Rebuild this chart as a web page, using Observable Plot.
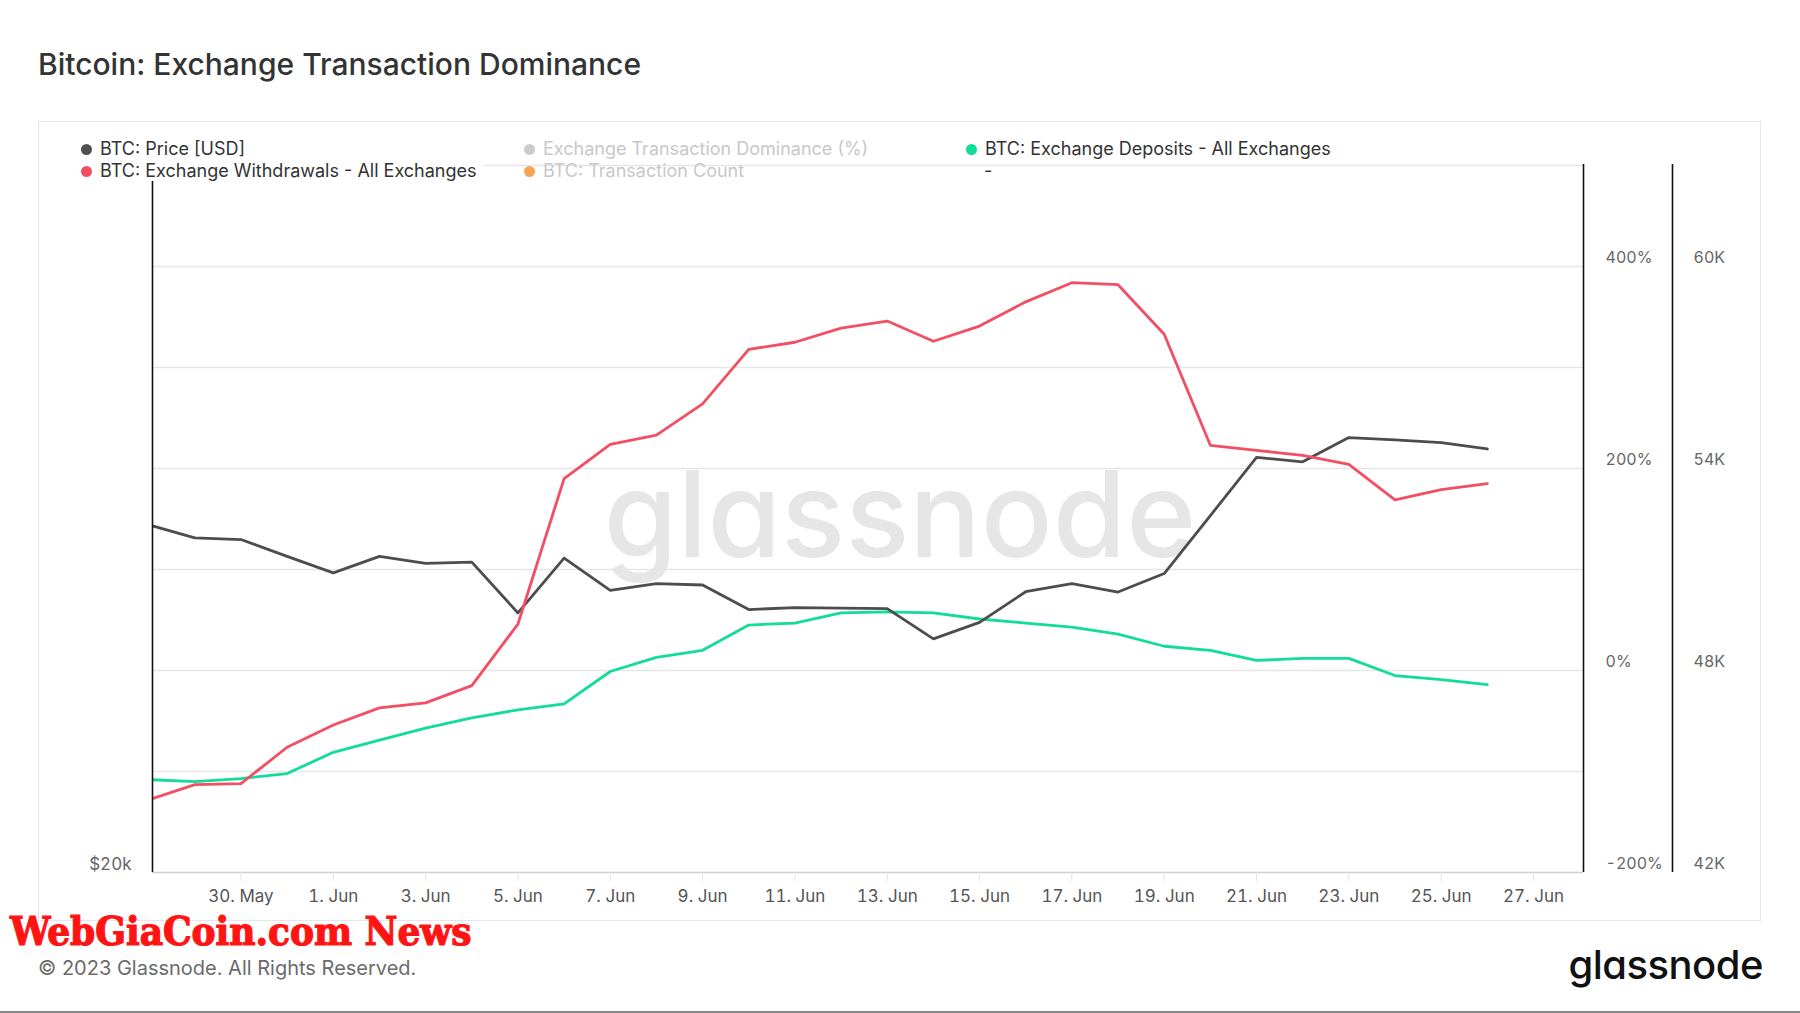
<!DOCTYPE html>
<html>
<head>
<meta charset="utf-8">
<script src="https://cdn.jsdelivr.net/npm/d3@7"></script>
<script src="https://cdn.jsdelivr.net/npm/@observablehq/plot@0.6"></script>
<style>
  html, body { margin: 0; padding: 0; background: #fff; }
  body { width: 1800px; height: 1013px; position: relative; overflow: hidden; font-family: Inter, "Noto Sans", sans-serif; }
  .abs { position: absolute; white-space: nowrap; }
  #box { position: absolute; left: 38px; top: 121px; width: 1721px; height: 798px; border: 1px solid #e6e6e6; }
  #chart { position: absolute; left: 0; top: 0; }
  .title { left: 38px; top: 47px; font-size: 30px; font-weight: 500; color: #333; line-height: 34px; }
  .leg { font-size: 18px; line-height: 20px; color: #333; }
  .dot { position: absolute; width: 11px; height: 11px; border-radius: 50%; }
  .copy { left: 38px; top: 955px; font-size: 20px; color: #6b6b6b; line-height: 26px; }
  .news { left: 10px; top: 915px; font-family: "DejaVu Serif Condensed", "DejaVu Serif", serif; font-weight: 900; font-size: 40px; color: #ff1414; line-height: 32px; -webkit-text-stroke: 1.2px #ff1414; }
  .logo { right: 37px; top: 942px; font-size: 40px; font-weight: 500; color: #111; line-height: 46px; letter-spacing: -0.5px; font-feature-settings: "cv11"; }
  #bottomline { position: absolute; left: 0; top: 1011px; width: 1800px; height: 2px; background: #888; }
</style>
</head>
<body>
<div id="box"></div>
<div id="chart"></div>
<div class="abs title">Bitcoin: Exchange Transaction Dominance</div>
<div id="legend"></div>
<div class="abs news">WebGiaCoin.com News</div>
<div class="abs copy">© 2023 Glassnode. All Rights Reserved.</div>
<div class="abs logo">glassnode</div>
<div id="bottomline"></div>
<script>
// ---- data ----
const dates = [
  "2023-05-28","2023-05-29","2023-05-30","2023-05-31","2023-06-01","2023-06-02","2023-06-03","2023-06-04",
  "2023-06-05","2023-06-06","2023-06-07","2023-06-08","2023-06-09","2023-06-10","2023-06-11","2023-06-12",
  "2023-06-13","2023-06-14","2023-06-15","2023-06-16","2023-06-17","2023-06-18","2023-06-19","2023-06-20",
  "2023-06-21","2023-06-22","2023-06-23","2023-06-24","2023-06-25","2023-06-26"
];
// BTC: Exchange Withdrawals - All Exchanges (% axis)
const withdrawalsPct = [-128,-113,-112,-76,-54,-37,-32,-15,46,190,224,233,264,318,325,339,346,326,341,365,384,382,333,223,218,213,204,169,179,185];
// BTC: Exchange Deposits - All Exchanges (% axis)
const depositsPct = [-108,-110,-107,-102,-81,-69,-57,-47,-39,-33,-1,13,20,45,47,57,58,57,51,47,43,36,24,20,10,12,12,-5,-9,-14];
// BTC: Price [USD], read against the 42K–60K axis
const priceVals = [52330,51940,51890,51390,50900,51390,51180,51220,49710,51340,50380,50580,50540,49810,49870,49850,49840,48940,49430,50340,50580,50330,50880,52600,54330,54200,54920,54850,54770,54580];

const xTicks = ["2023-05-30","2023-06-01","2023-06-03","2023-06-05","2023-06-07","2023-06-09","2023-06-11","2023-06-13","2023-06-15","2023-06-17","2023-06-19","2023-06-21","2023-06-23","2023-06-25","2023-06-27"];
const pctTicks = [-200, 0, 200, 400];
const pctTickLabels = ["-200%", "0%", "200%", "400%"];
const priceTickLabels = ["42K", "48K", "54K", "60K"];
const gridPct = [-100, 0, 100, 200, 300, 400, 500];
const leftTickLabels = ["$20k"];
const xDomain = ["2023-05-28T02:00Z", "2023-06-28T02:00Z"];
const yDomain = [-200, 501];

const legendLabels = ["BTC: Price [USD]", "Exchange Transaction Dominance (%)", "BTC: Exchange Deposits - All Exchanges",
                      "BTC: Exchange Withdrawals - All Exchanges", "BTC: Transaction Count", "-"];
const legendColors = ["#505050", "#cccccc", "#12dc97", "#f24e64", "#f7a35c", null];
const legendActive = [true, false, true, true, false, true];

const C_PRICE = "#4d4d4d", C_DEP = "#12dc97", C_WD = "#f24e64";

// price on the shared % scale: 48K ↔ 0%, 6K per 200%
const priceToPct = p => (p - 48000) / 30;

const rows = dates.map((d, i) => ({
  date: new Date(d + "T00:00Z"),
  wd: withdrawalsPct[i],
  dep: depositsPct[i],
  price: priceVals[i]
}));

const xStart = new Date(xDomain[0]);
const xEnd = new Date(xDomain[1]);

const chart = Plot.plot({
  width: 1800,
  height: 940,
  marginTop: 164,
  marginBottom: 68,
  marginLeft: 152,
  marginRight: 217,
  style: { background: "transparent", fontFamily: "Inter, 'Noto Sans', sans-serif", fontSize: "16px", overflow: "visible" },
  x: { type: "utc", domain: [xStart, xEnd] },
  y: { domain: yDomain },
  marks: [
    Plot.ruleY(gridPct, { stroke: "#e6e6e6", strokeWidth: 1.3 }),
    Plot.ruleY([yDomain[0]], { stroke: "#d0d0d0", strokeWidth: 1.5 }),
    Plot.text(["glassnode"], { frameAnchor: "middle", dx: 32, dy: 0, fontSize: 119, fontWeight: 500, fill: "#e6e6e6" }),
    Plot.lineY(rows, { x: "date", y: "dep", stroke: C_DEP, strokeWidth: 2.8, clip: true }),
    Plot.lineY(rows, { x: "date", y: d => priceToPct(d.price), stroke: C_PRICE, strokeWidth: 2.8, clip: true }),
    Plot.lineY(rows, { x: "date", y: "wd", stroke: C_WD, strokeWidth: 2.8, clip: true }),
    Plot.ruleX([xStart], { stroke: "#111", strokeWidth: 1.6 }),
    Plot.ruleX([xEnd], { stroke: "#111", strokeWidth: 1.6 }),
    Plot.ruleX([xEnd], { stroke: "#111", strokeWidth: 1.6, dx: 89 }),
    Plot.axisX(xTicks.map(t => new Date(t + "T00:00Z")), {
      tickFormat: d3.utcFormat("%-d. %b"), tickSize: 9, tickPadding: 8,
      stroke: "#e3e3e3", fill: "#555", fontSize: 17, label: null
    }),
    Plot.axisY(pctTicks, {
      anchor: "right", tickSize: 0, tickPadding: 22, dy: -9,
      tickFormat: (d, i) => pctTickLabels[i], fill: "#666", fontSize: 16, label: null
    }),
    Plot.axisY(pctTicks, {
      anchor: "right", tickSize: 0, tickPadding: 110, dy: -9,
      tickFormat: (d, i) => priceTickLabels[i], fill: "#666", fontSize: 16, label: null
    }),
    Plot.axisY([yDomain[0]], {
      anchor: "left", tickSize: 0, tickPadding: 21, dy: -8,
      tickFormat: (d, i) => leftTickLabels[i], fill: "#666", fontSize: 17, label: null
    })
  ]
});
document.getElementById("chart").appendChild(chart);
// single-storey "a" for the watermark wordmark
chart.querySelectorAll("text").forEach(t => { if (t.textContent === "glassnode") t.style.fontFeatureSettings = '"cv11"'; });

// ---- legend ----
const legend = document.getElementById("legend");
const colX = [86, 529, 971];
const rowY = [149, 171];
legendLabels.forEach((lab, i) => {
  const col = i % 3, row = Math.floor(i / 3);
  const cx = colX[col], cy = rowY[row];
  if (legendColors[i]) {
    const dot = document.createElement("div");
    dot.className = "dot";
    dot.style.left = (cx - 5.5) + "px";
    dot.style.top = (cy - 5.5) + "px";
    dot.style.background = legendColors[i];
    legend.appendChild(dot);
  }
  const t = document.createElement("div");
  t.className = "abs leg";
  t.textContent = lab;
  t.style.left = (cx + (legendColors[i] ? 14 : 13)) + "px";
  t.style.top = (cy - 10) + "px";
  t.style.color = legendActive[i] ? "#333" : "#c8c8c8";
  if (i === 3) { t.style.background = "#fff"; t.style.paddingRight = "6px"; }
  legend.appendChild(t);
});
</script>
</body>
</html>
